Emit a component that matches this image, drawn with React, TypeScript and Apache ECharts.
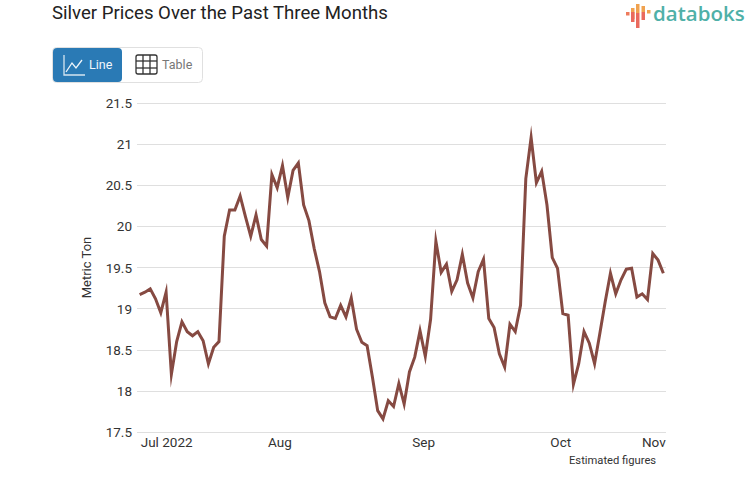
import React, { useEffect, useRef } from "react";
import * as echarts from "echarts";

const titleText = "Silver Prices Over the Past Three Months";
const yAxisName = "Metric Ton";
const footnote = "Estimated figures";
const monthLabels = ["Jul 2022", "Aug", "Sep", "Oct", "Nov"];
const monthPositions = [5.1, 26.5, 53.7, 79.6, 97.2];

const prices = [
  19.17, 19.2, 19.24, 19.12, 18.95, 19.2, 18.2, 18.6, 18.84, 18.72,
  18.67, 18.72, 18.61, 18.33, 18.53, 18.6, 19.88, 20.2, 20.2, 20.37,
  20.12, 19.88, 20.14, 19.84, 19.76, 20.63, 20.47, 20.74, 20.35, 20.68,
  20.77, 20.26, 20.07, 19.73, 19.45, 19.07, 18.9, 18.88, 19.04, 18.9,
  19.13, 18.75, 18.59, 18.55, 18.17, 17.76, 17.66, 17.88, 17.81, 18.09,
  17.84, 18.23, 18.41, 18.73, 18.42, 18.87, 19.82, 19.44, 19.54, 19.21,
  19.35, 19.66, 19.31, 19.13, 19.45, 19.6, 18.88, 18.77, 18.45, 18.29,
  18.81, 18.72, 19.04, 20.58, 21.08, 20.53, 20.67, 20.26, 19.62, 19.49,
  18.94, 18.92, 18.08, 18.33, 18.72, 18.58, 18.33, 18.7, 19.08, 19.43,
  19.18, 19.35, 19.48, 19.49, 19.14, 19.18, 19.11, 19.67, 19.59, 19.43,
];

const Roboto = "Roboto, sans-serif";

export default function App() {
  const ref = useRef<HTMLDivElement>(null);
  useEffect(() => {
    const chart = echarts.init(ref.current!, undefined, { renderer: "svg" });
    const gridLine = { stroke: "#333", lineWidth: 1.3, fill: "none" };
    chart.setOption({
      animation: false,
      backgroundColor: "#fff",
      grid: { left: 137, right: 87, top: 103, bottom: 66, containLabel: false },
      xAxis: {
        type: "value",
        min: -0.5,
        max: 99.5,
        splitLine: { show: false },
        axisTick: { show: false },
        axisLine: { show: false },
        axisLabel: {
          customValues: monthPositions,
          margin: 3,
          fontFamily: Roboto,
          fontSize: 13.5,
          color: "#333",
          formatter: (v: number) => monthLabels[monthPositions.indexOf(v)] ?? "",
          hideOverlap: false,
        },
      },
      yAxis: {
        type: "value",
        min: 17.5,
        max: 21.5,
        interval: 0.5,
        name: yAxisName,
        nameLocation: "middle",
        nameGap: 44,
        nameRotate: 90,
        nameTextStyle: { fontFamily: Roboto, fontSize: 13, color: "#333" },
        axisLine: { show: false },
        axisTick: { show: false },
        axisLabel: {
          margin: 5,
          fontFamily: Roboto,
          fontSize: 13.5,
          color: "#333",
        },
        splitLine: { show: true, lineStyle: { color: "#dfdfdf", width: 1 } },
      },
      series: [
        {
          type: "line",
          data: prices.map((v, i) => [i, v]),
          showSymbol: false,
          smooth: false,
          lineStyle: { color: "#864a42", width: 3, join: "miter", miterLimit: 20 },
        },
      ],
      graphic: [
        { type: "text", x: 52, y: 3, style: { text: titleText, fontFamily: Roboto, fontSize: 18.6, fontWeight: 400, fill: "#222" } },
        { type: "text", x: 569, y: 455, style: { text: footnote, fontFamily: Roboto, fontSize: 11.2, fill: "#333" } },
        // toggle buttons
        { type: "rect", shape: { x: 52.5, y: 47.5, width: 150, height: 35, r: 4 }, style: { fill: "#fff", stroke: "#e0e0e0", lineWidth: 1 } },
        { type: "rect", shape: { x: 53, y: 48, width: 69, height: 34, r: 4 }, style: { fill: "#2a7ab5" } },
        { type: "polyline", shape: { points: [[64, 55], [64, 75], [85, 75]] }, style: { stroke: "#d5e5f0", lineWidth: 1.3, fill: "none" } },
        { type: "polyline", shape: { points: [[66, 72], [72, 63], [76, 68], [82, 60]] }, style: { stroke: "#eef5fa", lineWidth: 1.3, fill: "none" } },
        { type: "text", x: 89, y: 58, style: { text: "Line", fontFamily: Roboto, fontSize: 12.5, fill: "#f2f7fb" } },
        { type: "rect", shape: { x: 136, y: 55, width: 21, height: 19, r: 2 }, style: gridLine },
        { type: "line", shape: { x1: 143, y1: 55, x2: 143, y2: 74 }, style: gridLine },
        { type: "line", shape: { x1: 150, y1: 55, x2: 150, y2: 74 }, style: gridLine },
        { type: "line", shape: { x1: 136, y1: 61, x2: 157, y2: 61 }, style: gridLine },
        { type: "line", shape: { x1: 136, y1: 68, x2: 157, y2: 68 }, style: gridLine },
        { type: "text", x: 162, y: 58, style: { text: "Table", fontFamily: Roboto, fontSize: 12.5, fill: "#777" } },
        // logo
        { type: "rect", shape: { x: 626, y: 12, width: 3.5, height: 3.5 }, style: { fill: "#ee7b5c" } },
        { type: "rect", shape: { x: 631, y: 8, width: 3.5, height: 11 }, style: { fill: "#f0a24f" } },
        { type: "rect", shape: { x: 631, y: 12, width: 3.5, height: 10 }, style: { fill: "#ea6a5d" } },
        { type: "rect", shape: { x: 636, y: 4, width: 3.5, height: 9 }, style: { fill: "#f0a24f" } },
        { type: "rect", shape: { x: 636, y: 13, width: 3.5, height: 15 }, style: { fill: "#ea6a5d" } },
        { type: "rect", shape: { x: 641.5, y: 6, width: 3.5, height: 6 }, style: { fill: "#f0a24f" } },
        { type: "rect", shape: { x: 641.5, y: 12, width: 3.5, height: 8 }, style: { fill: "#ea6a5d" } },
        { type: "rect", shape: { x: 647, y: 10, width: 3.5, height: 3.5 }, style: { fill: "#f0a24f" } },
        { type: "text", x: 653, y: 2, style: { text: "databoks", fontFamily: '"Open Sans", sans-serif', fontSize: 20.5, fontWeight: 600, fill: "#4fb0a8" } },
      ],
    });
    return () => chart.dispose();
  }, []);
  return <div ref={ref} style={{ position: "fixed", left: 0, top: 0, width: 753, height: 498 }} />;
}
